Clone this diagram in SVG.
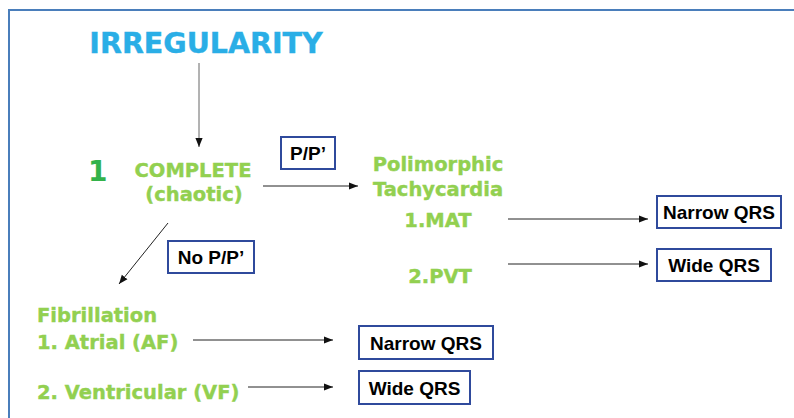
<svg xmlns="http://www.w3.org/2000/svg" width="794" height="418" viewBox="0 0 794 418">
  <style>
    .frame { fill: none; stroke: #4a7ebb; stroke-width: 2; }
    .head { font-family: "DejaVu Sans", Verdana, sans-serif; font-weight: bold; fill: #2aaee6; stroke: #2aaee6; stroke-width: 0.4; }
    .grn { font-family: "DejaVu Sans", Verdana, sans-serif; font-weight: bold; fill: #92d050; stroke: #92d050; stroke-width: 0.4; font-size: 19.5px; }
    .num { font-family: "DejaVu Sans", Verdana, sans-serif; font-weight: bold; fill: #33b24a; font-size: 28px; }
    .box rect { fill: #ffffff; stroke: #2f4a9c; stroke-width: 2; }
    .box text { font-family: "Liberation Sans", Arial, sans-serif; font-weight: bold; font-size: 19px; fill: #000000; text-anchor: middle; }
    .conn line { stroke: #222222; stroke-width: 1; marker-end: url(#arr); }
  </style>
  <defs>
    <marker id="arr" viewBox="0 0 10 10" refX="10" refY="5" markerWidth="9" markerHeight="9" markerUnits="userSpaceOnUse" orient="auto">
      <path d="M0,1 L10,5 L0,9 Z" fill="#111111"/>
    </marker>
  </defs>

  <rect width="794" height="418" fill="#ffffff"/>
  <path class="frame" d="M9,418 L9,10 L794,10"/>

  <g id="irregularity">
    <text class="head" x="206" y="53" font-size="28.5" text-anchor="middle">IRREGULARITY</text>
  </g>

  <g id="complete">
    <text class="num" x="88" y="181">1</text>
    <text class="grn" x="193" y="177" text-anchor="middle">COMPLETE</text>
    <text class="grn" x="194" y="201" text-anchor="middle">(chaotic)</text>
  </g>

  <g id="polymorphic">
    <text class="grn" x="438" y="171" text-anchor="middle">Polimorphic</text>
    <text class="grn" x="438" y="196" text-anchor="middle">Tachycardia</text>
    <text class="grn" x="438" y="227" text-anchor="middle">1.MAT</text>
    <text class="grn" x="440" y="283" text-anchor="middle">2.PVT</text>
  </g>

  <g id="fibrillation">
    <text class="grn" x="37" y="322">Fibrillation</text>
    <text class="grn" x="37" y="349">1. Atrial (AF)</text>
    <text class="grn" x="37" y="399">2. Ventricular (VF)</text>
  </g>

  <g id="label-pp" class="box">
    <rect x="281" y="137" width="54" height="32"/>
    <text x="308" y="160">P/P’</text>
  </g>
  <g id="label-no-pp" class="box">
    <rect x="168" y="241" width="86" height="32"/>
    <text x="211" y="264">No P/P’</text>
  </g>
  <g id="mat-narrow" class="box">
    <rect x="657" y="196" width="124" height="32"/>
    <text x="719" y="219">Narrow QRS</text>
  </g>
  <g id="pvt-wide" class="box">
    <rect x="657" y="249" width="114" height="32"/>
    <text x="714" y="272">Wide QRS</text>
  </g>
  <g id="af-narrow" class="box">
    <rect x="359" y="326" width="134" height="33"/>
    <text x="426" y="350">Narrow QRS</text>
  </g>
  <g id="vf-wide" class="box">
    <rect x="359" y="371" width="111" height="33"/>
    <text x="414.5" y="395">Wide QRS</text>
  </g>

  <g id="connectors" class="conn">
    <line x1="199" y1="63" x2="199" y2="147" style="stroke:#666666"/>
    <line x1="263" y1="186" x2="358" y2="186"/>
    <line x1="168" y1="223" x2="119" y2="284"/>
    <line x1="508" y1="219" x2="648" y2="219"/>
    <line x1="508" y1="264" x2="648" y2="264"/>
    <line x1="193" y1="340" x2="333" y2="340"/>
    <line x1="248" y1="387" x2="333" y2="387"/>
  </g>
</svg>
